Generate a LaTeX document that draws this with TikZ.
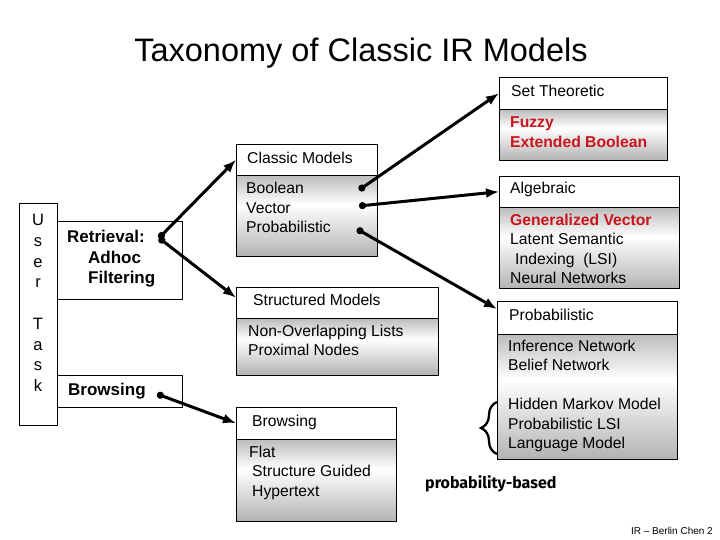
\documentclass[tikz,border=0pt]{standalone}
\usepackage{fontspec}
\setmainfont{Liberation Sans}
\newfontfamily\handfont{Fira Sans}
\usetikzlibrary{arrows.meta,decorations.pathreplacing}

\definecolor{modelred}{RGB}{200,20,28}
\pgfdeclareverticalshading{boxshade}{100bp}{color(0bp)=(black!30); color(25bp)=(black!30); color(57bp)=(white); color(75bp)=(black!26); color(100bp)=(black!26)}
\newcommand\hotline[1]{{\color{modelred}\bfseries #1}}

\tikzset{
  head/.style={draw, fill=white, anchor=north west, inner sep=0pt, minimum height=31.5pt},
  body/.style={draw, shading=boxshade, anchor=north west, inner sep=0pt},
  task/.style={draw, fill=white, anchor=north west, inner sep=0pt},
  txt/.style={anchor=west, inner sep=0pt, align=left, font=\fontsize{15.7}{19.5}\selectfont},
  tasktxt/.style={anchor=west, inner sep=0pt, align=left, font=\fontsize{17}{20.5}\selectfont\bfseries},
  arr/.style={line width=3pt, {Circle[length=7pt]}-{Latex[length=13pt,width=10pt]}}
}

\begin{document}
\begin{tikzpicture}[x=1pt, y=-1pt]
    \fill[white] (0,0) rectangle (720,540);
    \useasboundingbox (0,0) rectangle (720,540);

    \node[font=\fontsize{32.5}{36}\selectfont, anchor=base] (title) at (361,62) {Taxonomy of Classic IR Models};

    \node[task, minimum width=38pt, minimum height=222pt] (usr) at (19,203) {};
    \node[inner sep=0pt, align=center, font=\fontsize{16.5}{20.7}\selectfont] (usrT) at (38,303) {U\\s\\e\\r\\[20.7pt]T\\a\\s\\k};

    \node[task, minimum width=125pt, minimum height=78pt] (ret) at (57,221) {};
    \node[tasktxt] (retT) at (67,259) {Retrieval:\\\hspace*{21pt}Adhoc\\\hspace*{21pt}Filtering};
    \node[task, minimum width=125pt, minimum height=32pt] (brw) at (57,375) {};
    \node[tasktxt] (brwT) at (68,391) {Browsing};

      \node[head, minimum width=141pt, minimum height=31pt] (clsH) at (236,144) {};
      \node[body, minimum width=141pt, minimum height=81pt] (clsB) at (clsH.south west) {};
      \node[txt] (clsT) at (247,158) {Classic Models};
      \node[txt] (clsL) at (246,207.5) {Boolean\\Vector\\Probabilistic};

      \node[head, minimum width=202pt, minimum height=31pt] (strH) at (236,287) {};
      \node[body, minimum width=202pt, minimum height=57pt] (strB) at (strH.south west) {};
      \node[txt] (strT) at (253,300) {Structured Models};
      \node[txt] (strL) at (248,340.5) {Non-Overlapping Lists\\Proximal Nodes};

      \node[head, minimum width=160pt, minimum height=32pt] (brwH) at (236,407) {};
      \node[body, minimum width=160pt, minimum height=82pt] (brwB) at (brwH.south west) {};
      \node[txt] (brwHT) at (252,422) {Browsing};
      \node[txt] (brwL) at (249,472.5) {Flat\\\hspace*{3pt}Structure Guided\\\hspace*{3pt}Hypertext};

        \node[head, minimum width=168pt, minimum height=32pt] (setH) at (499,77) {};
        \node[body, minimum width=168pt, minimum height=51pt] (setB) at (setH.south west) {};
        \node[txt] (setT) at (511,91) {Set Theoretic};
        \node[txt] (setL) at (510,132) {\hotline{Fuzzy}\\\hotline{Extended Boolean}};

        \node[head, minimum width=180pt, minimum height=31pt] (algH) at (499,176) {};
        \node[body, minimum width=180pt, minimum height=81pt] (algB) at (algH.south west) {};
        \node[txt] (algT) at (510,189) {Algebraic};
        \node[txt] (algL) at (510,249) {\hotline{Generalized Vector}\\Latent Semantic\\\hspace*{5pt}Indexing\ \ (LSI)\\Neural Networks};

        \node[head, minimum width=180pt, minimum height=33pt] (prbH) at (497,301) {};
        \node[body, minimum width=180pt, minimum height=125pt] (prbB) at (prbH.south west) {};
        \node[txt] (prbT) at (509,315) {Probabilistic};
        \node[txt] (prbL) at (508,396) {Inference Network\\Belief Network\\[19.5pt]Hidden Markov Model\\Probabilistic LSI\\Language Model};

    \draw[line width=2.3pt, decorate, decoration={brace, amplitude=16pt}] (497,454) -- (497,402);
    \node[anchor=west, inner sep=0pt, font=\handfont\bfseries\fontsize{16}{18}\selectfont] (pbT) at (425,484) {probability-based};

    \coordinate (retDot) at (159,238);
    \coordinate (brwDot) at (157,394);
    \coordinate (boolDot) at (359,190);
    \coordinate (vecDot) at (359,206);
    \coordinate (probDot) at (357,229);

    \draw[arr] (retDot) -- (clsH.west);
    \draw[arr] (retDot) -- ([yshift=5pt]strH.west);
    \draw[arr] (brwDot) -- (brwH.west);
    \draw[arr] (boolDot) -- (setH.west);
    \draw[arr] (vecDot) -- (algH.west);
    \draw[arr] (probDot) -- ([yshift=-8pt]prbH.north west);

    \node[anchor=east, inner sep=0pt, font=\fontsize{10}{12}\selectfont] (pgT) at (713,531) {IR -- Berlin Chen 2};
\end{tikzpicture}
\end{document}
